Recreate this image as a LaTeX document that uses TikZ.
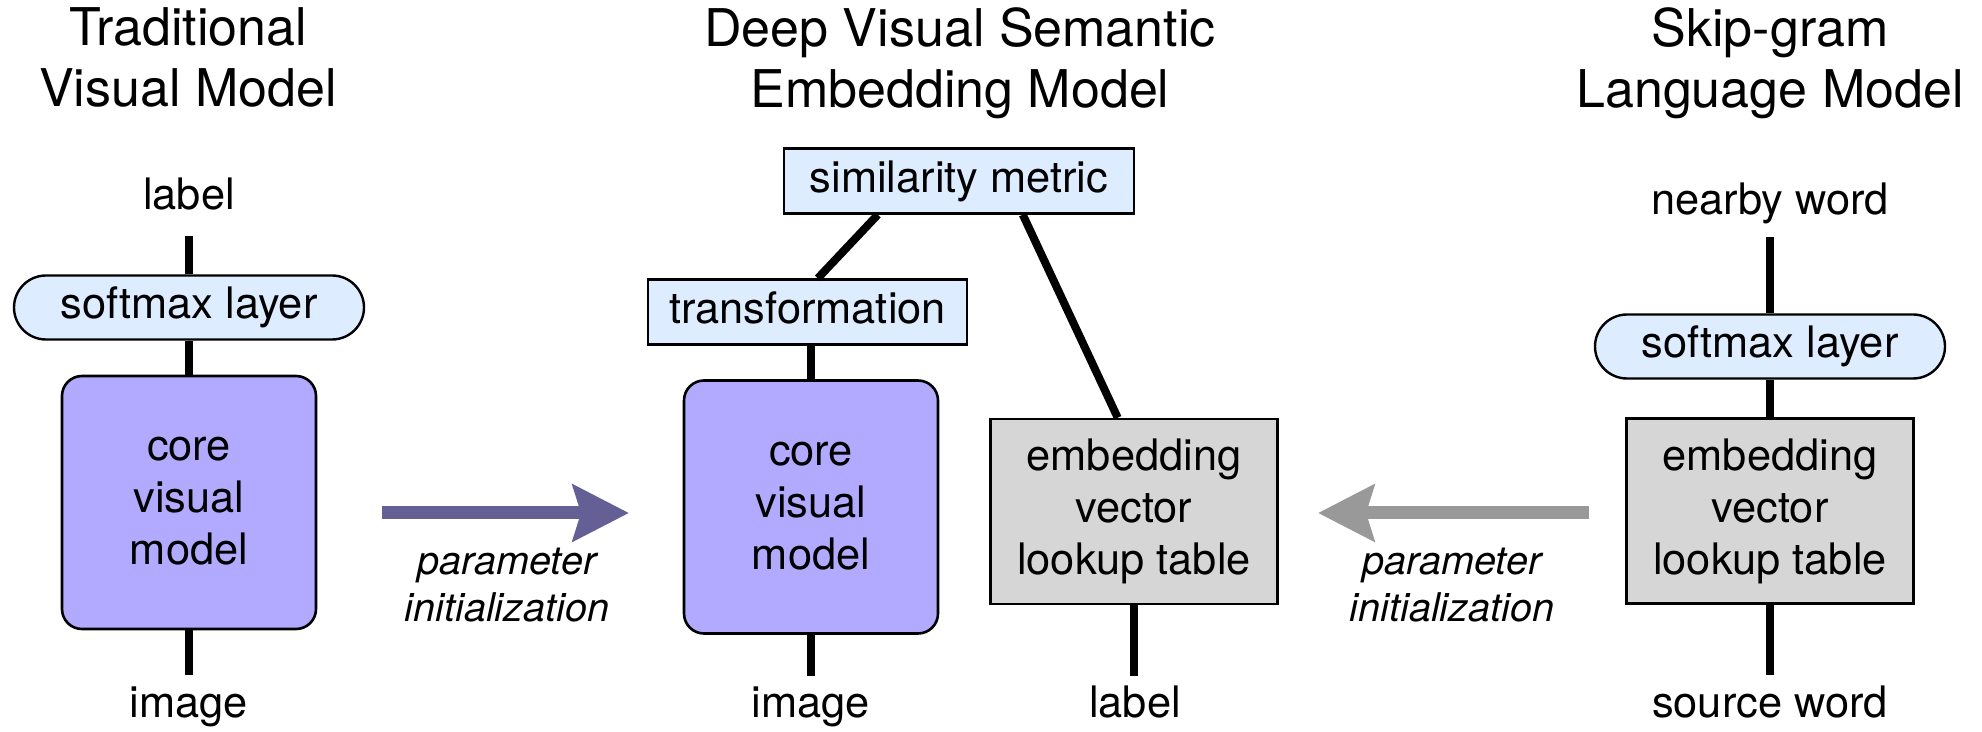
\documentclass[tikz,border=0pt]{standalone}
\usepackage{fontspec}
\setmainfont{TeX Gyre Heros}
\usetikzlibrary{arrows.meta,calc}
\definecolor{lblue}{RGB}{221,236,255}
\definecolor{cpurple}{RGB}{178,170,255}
\definecolor{egray}{RGB}{214,214,214}
\definecolor{apurple}{RGB}{100,96,150}
\definecolor{agray}{RGB}{153,153,153}
\newcommand\bstr{\rule[-4pt]{0pt}{18pt}}
\newcommand\tstr{\rule[-8pt]{0pt}{22pt}}
\begin{document}
\begin{tikzpicture}[x=0.5pt,y=-0.5pt,
  body/.style={font=\fontsize{21.7pt}{26pt}\selectfont, inner sep=0pt},
  title/.style={font=\fontsize{26pt}{30.5pt}\selectfont, align=center, inner sep=0pt},
  pill/.style={body, draw, line width=1.2pt, fill=lblue, rounded corners=16pt, minimum width=175pt, minimum height=32pt},
  rbox/.style={body, draw, line width=1.2pt, fill=lblue, minimum height=32.5pt},
  corebox/.style={body, align=center, draw, line width=1.3pt, fill=cpurple, rounded corners=10pt, minimum width=127pt, minimum height=126.5pt},
  embbox/.style={body, align=center, draw, line width=1.3pt, fill=egray, minimum width=143.5pt, minimum height=92.5pt},
  conn/.style={line width=4pt},
  word/.style={body, anchor=base},
  plabel/.style={font=\fontsize{19.8pt}{23.8pt}\selectfont\itshape, align=center, inner sep=0pt},
  parrow/.style={line width=6.5pt, -{Stealth[length=28pt,width=28pt,inset=4pt]}},
]
\useasboundingbox (0,0) rectangle (1982,732);
\fill[white] (0,0) rectangle (1982,732);

% titles
\node[title] (t1) at (188,65.5) {\tstr Traditional\\\tstr Visual Model};
\node[title] (t2) at (960,65.5) {\tstr Deep Visual Semantic\\\tstr Embedding Model};
\node[title] (t3) at (1770,65.5) {\tstr Skip-gram\\\tstr Language Model};

% left column
\node[word] (llabel) at (189,210) {label};
\node[pill] (ls) at (189,307.5) {\bstr softmax layer};
\node[corebox] (lc) at (189,502.5) {\bstr core\\\bstr visual\\\bstr model};
\node[word] (limage) at (189,717) {image};
\coordinate (lt) at (189,236);
\coordinate (lb) at (189,675);
\draw[conn] (lt) -- (ls);
\draw[conn] (ls) -- (lc);
\draw[conn] (lc) -- (lb);

% middle column
\node[rbox, minimum width=175pt] (ms) at (959,181) {\bstr similarity metric};
\node[rbox, minimum width=159.5pt] (mt) at (807.5,312) {\bstr transformation};
\node[corebox] (mc) at (811,507) {\bstr core\\\bstr visual\\\bstr model};
\node[embbox] (me) at (1134,511.5) {\bstr embedding\\\bstr vector\\\bstr lookup table};
\node[word] (mimage) at (811,717) {image};
\node[word] (mlabel) at (1135,717) {label};
\coordinate (mb1) at (811,676);
\coordinate (mb2) at (1134,676);
\draw[conn] ($(ms.south west)+(95,0)$) -- ($(mt.north west)+(171,0)$);
\draw[conn] ($(ms.south west)+(240,0)$) -- ($(me.north west)+(128.5,0)$);
\draw[conn] (mc.north) -- (mc.north |- mt.south);
\draw[conn] (mc) -- (mb1);
\draw[conn] (me) -- (mb2);

% right column
\node[word] (rnear) at (1770,215) {nearby word};
\node[pill] (rs) at (1770,346.5) {\bstr softmax layer};
\node[embbox] (re) at (1770,511) {\bstr embedding\\\bstr vector\\\bstr lookup table};
\node[word] (rsrc) at (1770,717) {source word};
\coordinate (rt) at (1770,237);
\coordinate (rb) at (1770,675);
\draw[conn] (rt) -- (rs);
\draw[conn] (rs) -- (re);
\draw[conn] (re) -- (rb);

% parameter initialization arrows
\coordinate (a1s) at (382,513);
\coordinate (a1e) at (629,513);
\draw[parrow, apurple] (a1s) -- (a1e);
\node[plabel] (p1) at (507,588) {\bstr parameter\\\bstr initialization};
\coordinate (a2s) at (1589,513);
\coordinate (a2e) at (1318,513);
\draw[parrow, agray] (a2s) -- (a2e);
\node[plabel] (p2) at (1452,588) {\bstr parameter\\\bstr initialization};
\end{tikzpicture}
\end{document}
